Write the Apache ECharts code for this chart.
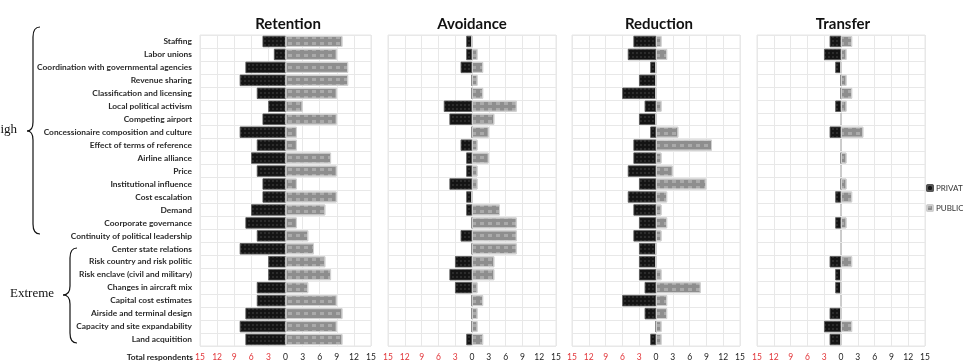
<!DOCTYPE html>
<html style="height: 100%;width: 100%">
<head>
<meta charset="utf-8">
<script src="https://cdn.jsdelivr.net/npm/echarts@6/dist/echarts.min.js"></script>
<style>
  html, body { margin: 0; padding: 0; background: #fff; }
  #container { width: 963px; height: 362px; }
</style>
</head>
<body>
<div id="container"></div>
<script type="text/javascript">

var categories = ['Staffing', 'Labor unions', 'Coordination with governmental agencies', 'Revenue sharing',
    'Classification and licensing', 'Local political activism', 'Competing airport',
    'Concessionaire composition and culture', 'Effect of terms of reference', 'Airline alliance', 'Price',
    'Institutional influence', 'Cost escalation', 'Demand', 'Coorporate governance',
    'Continuity of political leadership', 'Center state relations', 'Risk country and risk politic',
    'Risk enclave (civil and military)', 'Changes in aircraft mix', 'Capital cost estimates',
    'Airside and terminal design', 'Capacity and site expandability', 'Land acquitition'];

var panels = ['Retention', 'Avoidance', 'Reduction', 'Transfer'];
var xTicks = [15, 12, 9, 6, 3, 0, 3, 6, 9, 12, 15];

// respondents per category (private drawn to the left)
var retentionPrivate = [4, 2, 7, 8, 5, 3, 4, 8, 5, 6, 5, 4, 4, 6, 7, 5, 8, 3, 3, 5, 5, 7, 8, 7];
var retentionPublic  = [10, 9, 11, 11, 9, 3, 9, 2, 2, 8, 9, 2, 9, 7, 2, 4, 5, 7, 8, 4, 9, 10, 9, 10];
var avoidancePrivate = [1, 1, 2, 0, 0, 5, 4, 0, 2, 1, 1, 4, 1, 1, 0, 2, 0, 3, 4, 3, 0, 0, 0, 1];
var avoidancePublic  = [0, 1, 2, 1, 2, 8, 4, 3, 1, 3, 1, 1, 0, 5, 8, 8, 8, 4, 4, 1, 2, 1, 1, 2];
var reductionPrivate = [4, 5, 1, 3, 6, 2, 3, 1, 4, 4, 5, 3, 5, 4, 3, 4, 3, 3, 3, 2, 6, 2, 0, 1];
var reductionPublic  = [1, 2, 0, 0, 0, 1, 0, 4, 10, 1, 3, 9, 2, 1, 2, 1, 0, 0, 1, 8, 2, 2, 1, 1];
var transferPrivate  = [2, 3, 1, 0, 0, 1, 0, 2, 0, 0, 0, 0, 1, 0, 1, 0, 0, 2, 1, 1, 0, 2, 3, 2];
var transferPublic   = [2, 1, 0, 1, 2, 1, 0, 4, 0, 1, 0, 1, 2, 0, 1, 0, 0, 2, 0, 0, 0, 0, 2, 0];

var privateData = [retentionPrivate, avoidancePrivate, reductionPrivate, transferPrivate];
var publicData = [retentionPublic, avoidancePublic, reductionPublic, transferPublic];

var dom = document.getElementById('container');
var myChart = echarts.init(dom);

var gridLeft = [200, 388, 572, 757];
var gridWidth = [171, 168, 168, 168];
var titleCenter = [283, 467, 654, 838];
var gridTop = 35, gridHeight = 312;

var privateStyle = {
    color: '#141414',
    borderColor: '#555',
    borderWidth: 0.5,
    decal: {
        symbol: 'rect', symbolSize: 0.6, color: 'rgba(255,255,255,0.35)',
        dashArrayX: [2, 2], dashArrayY: [2, 2]
    }
};
var publicStyle = {
    color: '#8e8e8e',
    borderColor: '#d0d0d0',
    borderWidth: 1,
    decal: {
        symbol: 'rect', symbolSize: 1, color: 'rgba(255,255,255,0.25)',
        dashArrayX: [4, 4], dashArrayY: [3, 3]
    }
};

var grids = [], xAxes = [], yAxes = [], titles = [], series = [];
for (var i = 0; i < panels.length; i++) {
    grids.push({ left: gridLeft[i], width: gridWidth[i], top: gridTop, height: gridHeight, show: true, borderColor: '#e6e6e6', borderWidth: 1 });
    titles.push({
        text: panels[i], left: titleCenter[i], top: 12, textAlign: 'center',
        textStyle: { fontFamily: 'Lato', fontWeight: 'bold', fontSize: 15, color: '#111' }
    });
    xAxes.push({
        type: 'value', gridIndex: i, min: -15, max: 15, interval: 3,
        axisLine: { show: false }, axisTick: { show: false },
        splitLine: { show: true, lineStyle: { color: '#e8e8e8', width: 1 } },
        axisLabel: {
            margin: 7, fontSize: 8.5, fontFamily: 'Lato', color: '#222',
            formatter: function (v) {
                if (v < 0) return '{r|' + Math.abs(v) + '}';
                return '' + v;
            },
            rich: { r: { color: '#e2363a', fontSize: 8.5, fontFamily: 'Lato' } }
        }
    });
    yAxes.push({
        type: 'category', gridIndex: i, data: categories, inverse: true,
        axisLine: { show: false }, axisTick: { show: false },
        splitLine: { show: true, lineStyle: { color: '#e8e8e8', width: 1 } },
        axisLabel: {
            show: i === 0, margin: 8, fontSize: 8.4, fontWeight: 'bold', fontFamily: 'Lato', color: '#2a2a2a'
        }
    });
    series.push({
        name: 'PRIVATE', type: 'bar', xAxisIndex: i, yAxisIndex: i,
        data: privateData[i].map(function (v) { return -v; }),
        barWidth: 11, barGap: '-100%', itemStyle: privateStyle
    });
    series.push({
        name: 'PUBLIC', type: 'bar', xAxisIndex: i, yAxisIndex: i,
        data: publicData[i], barWidth: 11, barGap: '-100%', itemStyle: publicStyle
    });
}

// curly brace made of lines and quadratic curves
function brace(x, tip, yTop, yMid, yBot) {
    var st = { stroke: '#111', lineWidth: 1.2, fill: 'none' };
    return [
        { type: 'bezierCurve', shape: { x1: x + 7, y1: yTop, cpx1: x, cpy1: yTop, x2: x, y2: yTop + 10 }, style: st },
        { type: 'line', shape: { x1: x, y1: yTop + 10, x2: x, y2: yMid - 9 }, style: st },
        { type: 'bezierCurve', shape: { x1: x, y1: yMid - 9, cpx1: x, cpy1: yMid, x2: tip, y2: yMid }, style: st },
        { type: 'bezierCurve', shape: { x1: tip, y1: yMid, cpx1: x, cpy1: yMid, x2: x, y2: yMid + 9 }, style: st },
        { type: 'line', shape: { x1: x, y1: yMid + 9, x2: x, y2: yBot - 10 }, style: st },
        { type: 'bezierCurve', shape: { x1: x, y1: yBot - 10, cpx1: x, cpy1: yBot, x2: x + 7, y2: yBot }, style: st }
    ];
}

var graphics = [
    { type: 'text', x: 193, y: 353, style: { text: 'Total respondents', align: 'right', fontSize: 8.4, fontWeight: 'bold', fontFamily: 'Lato', fill: '#222' } },
    { type: 'text', left: -9, top: 123, style: { text: 'High', fontSize: 13, fontFamily: 'Liberation Serif', fill: '#111' } },
    { type: 'text', left: 10, top: 287, style: { text: 'Extreme', fontSize: 13, fontFamily: 'Liberation Serif', fill: '#111' } }
].concat(brace(33, 27, 27, 131, 234)).concat(brace(70, 63, 248, 295, 343));

option = {
    animation: false,
    title: titles,
    legend: {
        data: ['PRIVATE', 'PUBLIC'], orient: 'vertical', left: 926, top: 184, padding: 0,
        itemWidth: 6, itemHeight: 6, itemGap: 12,
        textStyle: { fontSize: 8, fontFamily: 'Lato', color: '#333', padding: [0, 0, 0, -2] }
    },
    grid: grids,
    xAxis: xAxes,
    yAxis: yAxes,
    series: series,
    graphic: graphics
};

if (option && typeof option === 'object') {
    myChart.setOption(option);
}
</script>
</body>
</html>
